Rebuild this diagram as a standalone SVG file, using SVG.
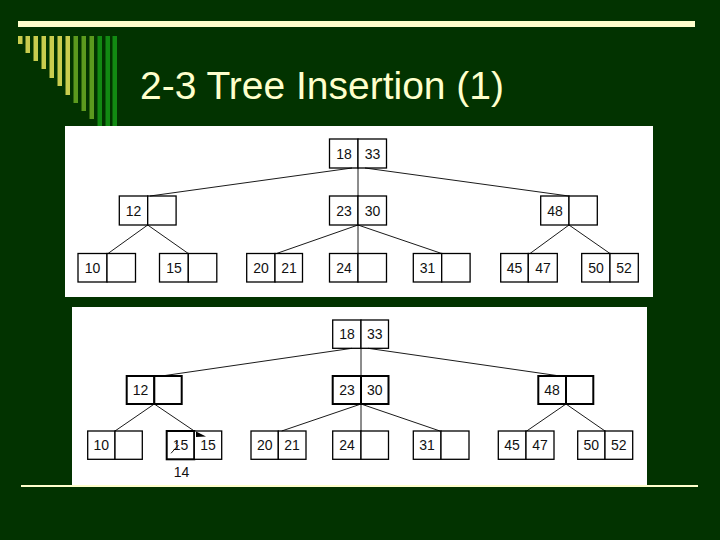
<svg xmlns="http://www.w3.org/2000/svg" width="720" height="540" viewBox="0 0 720 540">
<style>
.bg{fill:#023300}
.cream{fill:#FFFFCC}
.panel{fill:#FFFFFF}
.y{fill:#C8CC4E}
.o{fill:#5C9A1E}
.g{fill:#128A12}
.title{font-family:"Liberation Sans",Arial,sans-serif;font-size:38px;fill:#FFFFCC}
.c{fill:#FFFFFF;stroke:#000;stroke-width:1.3}
.ct{fill:#FFFFFF;stroke:#000;stroke-width:2}
.n{font-family:"Liberation Sans",Arial,sans-serif;font-size:14px;fill:#111;text-anchor:middle}
.e{stroke:#000;stroke-width:0.9;fill:none}
</style>
<rect class="bg" x="0" y="0" width="720" height="540"/>
<rect class="cream" x="18" y="21" width="677" height="6"/>
<g id="stripes">
<rect class="y" x="18" y="36" width="4.5" height="8"/>
<rect class="y" x="25.5" y="36" width="4.5" height="17"/>
<rect class="y" x="33.5" y="36" width="4.5" height="25"/>
<rect class="y" x="41.5" y="36" width="4.5" height="33"/>
<rect class="y" x="49.5" y="36" width="4.5" height="42"/>
<rect class="y" x="57.5" y="36" width="4.5" height="50"/>
<rect class="y" x="65.5" y="36" width="4.5" height="59"/>
<rect class="o" x="73.5" y="36" width="4.5" height="67"/>
<rect class="o" x="81.5" y="36" width="4.5" height="75"/>
<rect class="o" x="89.5" y="36" width="4.5" height="83"/>
<rect class="g" x="97.5" y="36" width="4.5" height="90"/>
<rect class="g" x="105.5" y="36" width="4.5" height="90"/>
<rect class="g" x="112.5" y="36" width="4.5" height="90"/>
</g>
<text class="title" x="140" y="99" textLength="364" lengthAdjust="spacingAndGlyphs">2-3 Tree Insertion (1)</text>

<rect class="panel" x="65" y="126" width="588" height="171"/>
<rect class="panel" x="72" y="307" width="575" height="178"/>
<rect class="cream" x="21" y="485" width="677" height="2"/>

<!-- top tree -->
<g id="t-root"><rect class="c" x="329.5" y="139" width="28.5" height="29"/><rect class="c" x="358" y="139" width="28.5" height="29"/><text class="n" x="344" y="158.5">18</text><text class="n" x="372.5" y="158.5">33</text></g>
<g id="t-12"><rect class="c" x="119.3" y="196" width="28.4" height="29"/><rect class="c" x="147.7" y="196" width="28.4" height="29"/><text class="n" x="133.5" y="215.5">12</text></g>
<g id="t-23-30"><rect class="c" x="329.5" y="196" width="28.5" height="29"/><rect class="c" x="358" y="196" width="28.5" height="29"/><text class="n" x="344" y="215.5">23</text><text class="n" x="372.5" y="215.5">30</text></g>
<g id="t-48"><rect class="c" x="540.7" y="196" width="28.3" height="29"/><rect class="c" x="569" y="196" width="28.3" height="29"/><text class="n" x="555" y="215.5">48</text></g>
<g id="t-10"><rect class="c" x="78" y="253.5" width="29" height="28.5"/><rect class="c" x="107" y="253.5" width="28.5" height="28.5"/><text class="n" x="92.5" y="272.5">10</text></g>
<g id="t-15"><rect class="c" x="159.5" y="253.5" width="28.8" height="28.5"/><rect class="c" x="188.3" y="253.5" width="28.5" height="28.5"/><text class="n" x="174" y="272.5">15</text></g>
<g id="t-20-21"><rect class="c" x="246.7" y="253.5" width="28.3" height="28.5"/><rect class="c" x="275" y="253.5" width="27.5" height="28.5"/><text class="n" x="261" y="272.5">20</text><text class="n" x="289" y="272.5">21</text></g>
<g id="t-24"><rect class="c" x="329.5" y="253.5" width="28.5" height="28.5"/><rect class="c" x="358" y="253.5" width="28.5" height="28.5"/><text class="n" x="344" y="272.5">24</text></g>
<g id="t-31"><rect class="c" x="413.3" y="253.5" width="28.4" height="28.5"/><rect class="c" x="441.7" y="253.5" width="28.4" height="28.5"/><text class="n" x="427.5" y="272.5">31</text></g>
<g id="t-45-47"><rect class="c" x="500.7" y="253.5" width="27.6" height="28.5"/><rect class="c" x="528.3" y="253.5" width="29" height="28.5"/><text class="n" x="514.5" y="272.5">45</text><text class="n" x="543" y="272.5">47</text></g>
<g id="t-50-52"><rect class="c" x="581.7" y="253.5" width="28.3" height="28.5"/><rect class="c" x="610" y="253.5" width="28.3" height="28.5"/><text class="n" x="596" y="272.5">50</text><text class="n" x="624" y="272.5">52</text></g>

<!-- bottom tree -->
<g id="b-root"><rect class="c" x="332.7" y="320" width="28.3" height="28.3"/><rect class="c" x="361" y="320" width="27.5" height="28.3"/><text class="n" x="347" y="339">18</text><text class="n" x="374.7" y="339">33</text></g>
<g id="b-12"><rect class="ct" x="126.7" y="376" width="27.6" height="28"/><rect class="ct" x="154.3" y="376" width="27.4" height="28"/><text class="n" x="140.5" y="395">12</text></g>
<g id="b-23-30"><rect class="ct" x="332.7" y="376" width="28.3" height="28"/><rect class="ct" x="361" y="376" width="27.5" height="28"/><text class="n" x="347" y="395">23</text><text class="n" x="374.7" y="395">30</text></g>
<g id="b-48"><rect class="ct" x="538.3" y="376" width="27.7" height="28"/><rect class="ct" x="566" y="376" width="27.3" height="28"/><text class="n" x="552" y="395">48</text></g>
<g id="b-10"><rect class="c" x="87.7" y="431" width="27.3" height="28.3"/><rect class="c" x="115" y="431" width="27.3" height="28.3"/><text class="n" x="101.3" y="450">10</text></g>
<g id="b-15-15"><rect class="ct" x="166.7" y="431" width="27.6" height="28.3"/><rect class="c" x="194.3" y="431" width="27.4" height="28.3"/><text class="n" x="180.5" y="450">15</text><line class="e" x1="171" y1="453.3" x2="178.5" y2="445"/><line class="e" x1="175.7" y1="444" x2="177.5" y2="441.5"/><text class="n" x="208" y="450">15</text></g>
<text class="n" x="181.5" y="476.5">14</text>
<g id="b-20-21"><rect class="c" x="251" y="431" width="27.3" height="28.3"/><rect class="c" x="278.3" y="431" width="27.7" height="28.3"/><text class="n" x="264.7" y="450">20</text><text class="n" x="292" y="450">21</text></g>
<g id="b-24"><rect class="c" x="332.7" y="431" width="28.3" height="28.3"/><rect class="c" x="361" y="431" width="27.5" height="28.3"/><text class="n" x="347" y="450">24</text></g>
<g id="b-31"><rect class="c" x="413.3" y="431" width="27.7" height="28.3"/><rect class="c" x="441" y="431" width="28" height="28.3"/><text class="n" x="427" y="450">31</text></g>
<g id="b-45-47"><rect class="c" x="498.3" y="431" width="27.7" height="28.3"/><rect class="c" x="526" y="431" width="28" height="28.3"/><text class="n" x="512" y="450">45</text><text class="n" x="540" y="450">47</text></g>
<g id="b-50-52"><rect class="c" x="577.7" y="431" width="27.3" height="28.3"/><rect class="c" x="605" y="431" width="27.7" height="28.3"/><text class="n" x="591.3" y="450">50</text><text class="n" x="618.8" y="450">52</text></g>

<g id="connectors">
<line class="e" x1="352" y1="168" x2="150" y2="196"/>
<line class="e" x1="358" y1="168" x2="358" y2="196"/>
<line class="e" x1="365" y1="168" x2="568.7" y2="196"/>
<line class="e" x1="147.7" y1="225" x2="108" y2="253.5"/>
<line class="e" x1="147.7" y1="225" x2="188.3" y2="253.5"/>
<line class="e" x1="358" y1="225" x2="276.5" y2="253.5"/>
<line class="e" x1="358" y1="225" x2="358" y2="253.5"/>
<line class="e" x1="358" y1="225" x2="441.7" y2="253.5"/>
<line class="e" x1="569" y1="225" x2="530" y2="253.5"/>
<line class="e" x1="569" y1="225" x2="610" y2="253.5"/>

<line class="e" x1="352" y1="348.3" x2="161.7" y2="376"/>
<line class="e" x1="361" y1="348.3" x2="361" y2="376"/>
<line class="e" x1="368" y1="348.3" x2="560" y2="376"/>
<line class="e" x1="154.3" y1="404" x2="115" y2="431"/>
<line class="e" x1="154.3" y1="404" x2="195" y2="431.5"/>
<polygon points="196,431.5 206,436.5 196,437" fill="#000"/>
<line class="e" x1="361" y1="404" x2="281.7" y2="431"/>
<line class="e" x1="361" y1="404" x2="361" y2="431"/>
<line class="e" x1="361" y1="404" x2="440" y2="431"/>
<line class="e" x1="566" y1="404" x2="526.7" y2="431"/>
<line class="e" x1="566" y1="404" x2="605" y2="431"/>
</g>
</svg>
